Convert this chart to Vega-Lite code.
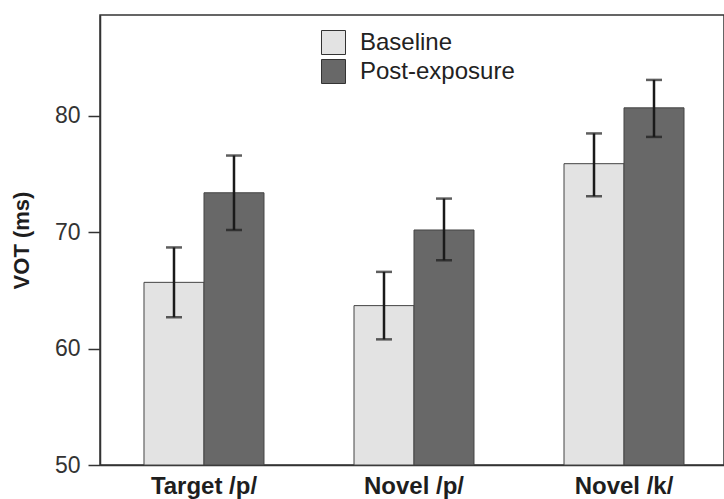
{
  "$schema": "https://vega.github.io/schema/vega-lite/v6.json",
  "autosize": "none",
  "padding": {"left": 100, "top": 15, "right": 0, "bottom": 34},
  "width": 624,
  "height": 450,
  "config": {
    "view": {"stroke": "#333", "strokeWidth": 1.5},
    "font": "Liberation Sans"
  },
  "data": {
    "values": [
      {"cond": "Target /p/", "series": "Baseline", "mean": 65.7, "lo": 62.7, "hi": 68.7},
      {"cond": "Target /p/", "series": "Post-exposure", "mean": 73.4, "lo": 70.2, "hi": 76.6},
      {"cond": "Novel /p/", "series": "Baseline", "mean": 63.7, "lo": 60.8, "hi": 66.6},
      {"cond": "Novel /p/", "series": "Post-exposure", "mean": 70.2, "lo": 67.6, "hi": 72.9},
      {"cond": "Novel /k/", "series": "Baseline", "mean": 75.9, "lo": 73.1, "hi": 78.5},
      {"cond": "Novel /k/", "series": "Post-exposure", "mean": 80.7, "lo": 78.2, "hi": 83.1}
    ]
  },
  "encoding": {
    "x": {
      "field": "cond", "type": "nominal", "sort": null,
      "scale": {"range": [0, 628], "paddingInner": 0.4286, "paddingOuter": 0.2095},
      "axis": {
        "title": null, "labelAngle": 0, "ticks": false,
        "labelFont": "Liberation Sans", "labelFontWeight": "bold", "labelFontSize": 24,
        "labelColor": "#1e1e1e", "labelPadding": 9,
        "domainColor": "#333", "domainWidth": 1.5
      }
    },
    "xOffset": {"field": "series", "type": "nominal", "scale": {"paddingInner": 0, "paddingOuter": 0}}
  },
  "layer": [
    {
      "mark": {"type": "bar", "stroke": "#444", "strokeWidth": 1},
      "encoding": {
        "y": {
          "field": "mean", "type": "quantitative",
          "scale": {"domain": [50, 88.68], "nice": false, "zero": false},
          "axis": {
            "values": [50, 60, 70, 80], "title": "VOT (ms)", "grid": false,
            "titleFont": "Liberation Sans", "titleFontSize": 22, "titleFontWeight": "bold", "titleColor": "#1e1e1e",
            "titlePadding": 21,
            "labelFont": "Liberation Sans", "labelFontSize": 23, "labelColor": "#333", "labelPadding": 8,
            "tickSize": 12, "tickColor": "#333", "tickWidth": 1.5,
            "domainColor": "#333", "domainWidth": 1.5
          }
        },
        "y2": {"datum": 50},
        "color": {
          "field": "series", "type": "nominal",
          "scale": {"domain": ["Baseline", "Post-exposure"], "range": ["#e3e3e3", "#686868"]},
          "legend": {
            "title": null, "orient": "none", "legendX": 221, "legendY": 15,
            "symbolType": "square", "symbolSize": 576, "symbolStrokeColor": "#333", "symbolStrokeWidth": 1,
            "labelFont": "Liberation Sans", "labelFontSize": 24, "labelColor": "#222",
            "labelOffset": 14, "rowPadding": 0, "padding": 0
          }
        }
      }
    },
    {
      "mark": {"type": "rule", "color": "#1a1a1a", "strokeWidth": 2.5},
      "encoding": {
        "y": {"field": "lo", "type": "quantitative"},
        "y2": {"field": "hi"}
      }
    },
    {
      "mark": {"type": "tick", "color": "#1a1a1a", "size": 16, "thickness": 2.5},
      "encoding": {"y": {"field": "lo", "type": "quantitative"}}
    },
    {
      "mark": {"type": "tick", "color": "#1a1a1a", "size": 16, "thickness": 2.5},
      "encoding": {"y": {"field": "hi", "type": "quantitative"}}
    }
  ]
}
